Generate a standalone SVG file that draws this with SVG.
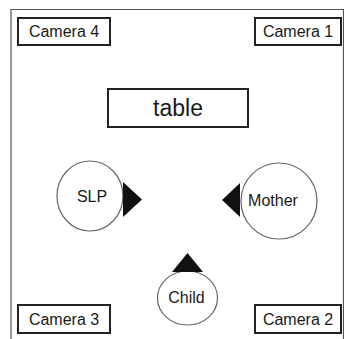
<svg xmlns="http://www.w3.org/2000/svg" width="344" height="339" viewBox="0 0 344 339">
<style>
.box{fill:#fff;stroke:#222;stroke-width:2}
.node{fill:#fff;stroke:#666;stroke-width:1.2}
.tri{fill:#111;stroke:none}
text{font-family:"Liberation Sans",Arial,sans-serif;fill:#1a1a1a;text-anchor:middle;font-size:16px}
text.big{font-size:23px}
</style>
<rect width="344" height="339" fill="#fff"/>
<g id="frame"><path d="M11,339 V9.5 H343.5 V339" fill="none" stroke="#555" stroke-width="1.2"/></g>
<g id="camera4"><rect class="box" x="18" y="18" width="92" height="27"/><text x="64" y="37">Camera 4</text></g>
<g id="camera1"><rect class="box" x="255" y="18" width="86" height="27"/><text x="298" y="37">Camera 1</text></g>
<g id="camera3"><rect class="box" x="18" y="305" width="92" height="28"/><text x="64" y="325">Camera 3</text></g>
<g id="camera2"><rect class="box" x="255" y="305" width="86" height="28"/><text x="298" y="325">Camera 2</text></g>
<g id="table"><rect class="box" x="108" y="89" width="140" height="38"/><text class="big" x="178" y="116">table</text></g>
<g id="slp"><ellipse class="node" cx="90" cy="196" rx="33" ry="35"/><text x="92" y="202">SLP</text><polygon class="tri" points="123,182 123,217 142,199.5"/></g>
<g id="mother"><circle class="node" cx="279" cy="201" r="38"/><text x="273" y="206">Mother</text><polygon class="tri" points="240,183 240,217 222,200"/></g>
<g id="child"><ellipse class="node" cx="187.5" cy="298" rx="30" ry="27"/><text x="186.5" y="303">Child</text><polygon class="tri" points="172,272 203,272 187.5,253"/></g>
<g id="connectors"/>
</svg>
